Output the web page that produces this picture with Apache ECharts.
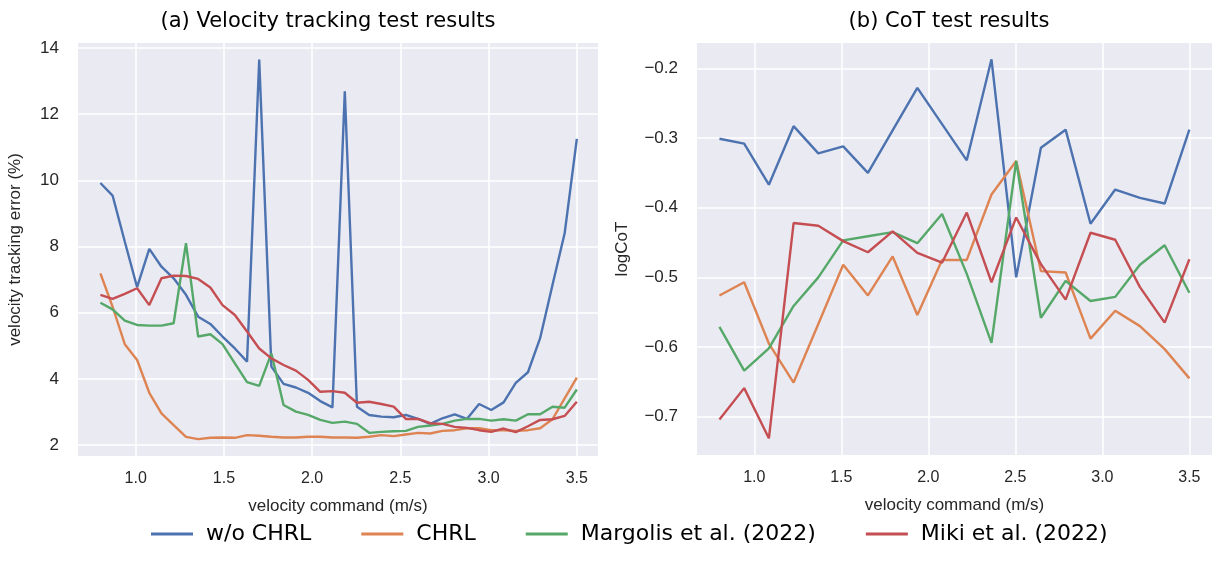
<!DOCTYPE html>
<html>
<head>
<meta charset="utf-8">
<script src="https://cdn.jsdelivr.net/npm/echarts@6/dist/echarts.min.js"></script>
<style>html,body{margin:0;padding:0;background:#fff}#c{width:1214px;height:561px}</style>
</head>
<body>
<div id="c"></div>
<script>
// ---- data ----
const seriesNames = ['w/o CHRL', 'CHRL', 'Margolis et al. (2022)', 'Miki et al. (2022)'];
const colors = ['#4C72B0', '#DD8452', '#55A868', '#C44E52'];

// (a) velocity tracking error: 40 velocity commands
const velA = [0.800, 0.869, 0.938, 1.008, 1.077, 1.146, 1.215, 1.285, 1.354, 1.423,
              1.492, 1.562, 1.631, 1.700, 1.769, 1.838, 1.908, 1.977, 2.046, 2.115,
              2.185, 2.254, 2.323, 2.392, 2.462, 2.531, 2.600, 2.669, 2.738, 2.808,
              2.877, 2.946, 3.015, 3.085, 3.154, 3.223, 3.292, 3.362, 3.431, 3.500];
const errWoCHRL = [9.92, 9.54, 8.15, 6.77, 7.93, 7.39, 7.04, 6.54, 5.88, 5.66,
                   5.28, 4.92, 4.52, 13.65, 4.37, 3.85, 3.74, 3.58, 3.33, 3.14,
                   12.69, 3.16, 2.91, 2.86, 2.84, 2.91, 2.79, 2.64, 2.81, 2.93,
                   2.79, 3.24, 3.06, 3.29, 3.88, 4.20, 5.23, 6.84, 8.40, 11.25];
const errCHRL = [7.19, 6.18, 5.05, 4.57, 3.58, 2.96, 2.60, 2.25, 2.18, 2.22,
                 2.23, 2.22, 2.30, 2.28, 2.25, 2.23, 2.23, 2.25, 2.25, 2.23,
                 2.23, 2.22, 2.25, 2.30, 2.27, 2.32, 2.37, 2.35, 2.43, 2.45,
                 2.51, 2.51, 2.45, 2.45, 2.43, 2.45, 2.51, 2.78, 3.41, 4.04];
const errMargolis = [6.30, 6.10, 5.76, 5.63, 5.61, 5.61, 5.68, 8.10, 5.28, 5.35,
                     5.05, 4.47, 3.90, 3.79, 4.77, 3.21, 3.01, 2.91, 2.76, 2.67,
                     2.71, 2.64, 2.37, 2.40, 2.42, 2.43, 2.55, 2.59, 2.64, 2.74,
                     2.79, 2.79, 2.74, 2.78, 2.74, 2.93, 2.93, 3.16, 3.13, 3.68];
const errMiki = [6.54, 6.42, 6.57, 6.74, 6.23, 7.04, 7.12, 7.11, 7.02, 6.76,
                 6.23, 5.93, 5.43, 4.92, 4.62, 4.42, 4.25, 3.97, 3.61, 3.63,
                 3.58, 3.28, 3.31, 3.24, 3.16, 2.79, 2.79, 2.66, 2.64, 2.55,
                 2.52, 2.45, 2.40, 2.50, 2.39, 2.57, 2.76, 2.78, 2.88, 3.31];

// (b) logCoT: 20 velocity commands
const velB = [0.800, 0.942, 1.084, 1.226, 1.368, 1.511, 1.653, 1.795, 1.937, 2.079,
              2.221, 2.363, 2.505, 2.647, 2.789, 2.932, 3.074, 3.216, 3.358, 3.500];
const cotWoCHRL = [-0.301, -0.308, -0.367, -0.283, -0.322, -0.312, -0.350, -0.289, -0.228, -0.280,
                   -0.332, -0.187, -0.500, -0.314, -0.288, -0.423, -0.374, -0.386, -0.394, -0.288];
const cotCHRL = [-0.526, -0.507, -0.595, -0.651, -0.567, -0.482, -0.526, -0.470, -0.554, -0.475,
                 -0.475, -0.381, -0.333, -0.491, -0.493, -0.588, -0.548, -0.570, -0.603, -0.645];
const cotMargolis = [-0.571, -0.634, -0.602, -0.541, -0.500, -0.447, -0.441, -0.435, -0.451, -0.409,
                     -0.495, -0.594, -0.333, -0.558, -0.505, -0.534, -0.528, -0.482, -0.454, -0.522];
const cotMiki = [-0.704, -0.659, -0.731, -0.422, -0.426, -0.448, -0.464, -0.434, -0.465, -0.479,
                 -0.407, -0.507, -0.414, -0.481, -0.532, -0.436, -0.446, -0.514, -0.565, -0.474];

const xTicks = [1.0, 1.5, 2.0, 2.5, 3.0, 3.5];
const yTicksA = [2, 4, 6, 8, 10, 12, 14];
const yTicksB = [-0.7, -0.6, -0.5, -0.4, -0.3, -0.2];

// ---- chart ----
const chart = echarts.init(document.getElementById('c'), null, {renderer: 'canvas'});
const tickFont = 'Liberation Sans, Arial, sans-serif';
const textFont = 'DejaVu Sans, Noto Sans, sans-serif';
const pair = (xs, ys) => xs.map((x, i) => [x, ys[i]]);

function xAxisCfg(gridIndex, min, max) {
  return {
    type: 'value', gridIndex, min, max,
    name: 'velocity command (m/s)', nameLocation: 'middle', nameGap: 42,
    nameTextStyle: {fontFamily: tickFont, fontSize: 17, color: '#262626'},
    axisLine: {show: false},
    axisTick: {show: false, customValues: xTicks},
    axisLabel: {customValues: xTicks, fontFamily: tickFont, fontSize: 16, color: '#262626', margin: 15,
                formatter: v => v.toFixed(1)},
    splitLine: {show: true, lineStyle: {color: '#ffffff', width: 1.5}}
  };
}
function yAxisCfg(gridIndex, min, max, ticks, name, fmt, gap) {
  return {
    type: 'value', gridIndex, min, max,
    name, nameLocation: 'middle', nameGap: gap, nameRotate: 90,
    nameTextStyle: {fontFamily: tickFont, fontSize: 17, color: '#262626'},
    axisLine: {show: false},
    axisTick: {show: false, customValues: ticks},
    axisLabel: {customValues: ticks, fontFamily: tickFont, fontSize: 17, color: '#262626', margin: 19,
                formatter: fmt},
    splitLine: {show: true, lineStyle: {color: '#ffffff', width: 1.5}}
  };
}

const dataA = [errWoCHRL, errCHRL, errMargolis, errMiki];
const dataB = [cotWoCHRL, cotCHRL, cotMargolis, cotMiki];
const series = [];
for (let k = 0; k < 4; k++) {
  series.push({type: 'line', name: seriesNames[k], xAxisIndex: 0, yAxisIndex: 0,
    data: pair(velA, dataA[k]), showSymbol: false, symbol: 'none', color: colors[k],
    lineStyle: {width: 2.4, color: colors[k]}, z: 2 + k, animation: false});
}
for (let k = 0; k < 4; k++) {
  series.push({type: 'line', name: seriesNames[k], xAxisIndex: 1, yAxisIndex: 1,
    data: pair(velB, dataB[k]), showSymbol: false, symbol: 'none', color: colors[k],
    lineStyle: {width: 2.4, color: colors[k]}, z: 2 + k, animation: false});
}

chart.setOption({
  animation: false,
  backgroundColor: '#ffffff',
  title: [
    {text: '(a) Velocity tracking test results', left: 323, top: 6, textAlign: 'center',
     textStyle: {fontFamily: textFont, fontSize: 21, fontWeight: 'normal', color: '#000'}},
    {text: '(b) CoT test results', left: 944, top: 6, textAlign: 'center',
     textStyle: {fontFamily: textFont, fontSize: 21, fontWeight: 'normal', color: '#000'}}
  ],
  grid: [
    {left: 78, top: 43, right: 616, bottom: 105, show: true, backgroundColor: '#EAEAF2', borderWidth: 0},
    {left: 697, top: 43, right: 2, bottom: 106, show: true, backgroundColor: '#EAEAF2', borderWidth: 0}
  ],
  xAxis: [xAxisCfg(0, 0.673, 3.62), xAxisCfg(1, 0.671, 3.63)],
  yAxis: [
    yAxisCfg(0, 1.67, 14.15, yTicksA, 'velocity tracking error (%)', v => String(Math.round(v)), 54),
    yAxisCfg(1, -0.755, -0.1636, yTicksB, 'logCoT', v => v.toFixed(1).replace('-', '\u2212'), 66)
  ],
  legend: {
    data: seriesNames, left: 146, top: 518, itemWidth: 42, itemHeight: 3, itemGap: 50,
    icon: 'path://M0,0 L42,0 L42,3 L0,3 Z',
    textStyle: {fontFamily: textFont, fontSize: 22, color: '#000', padding: [0, 0, 0, 8]}
  },
  series
});
</script>
</body>
</html>
